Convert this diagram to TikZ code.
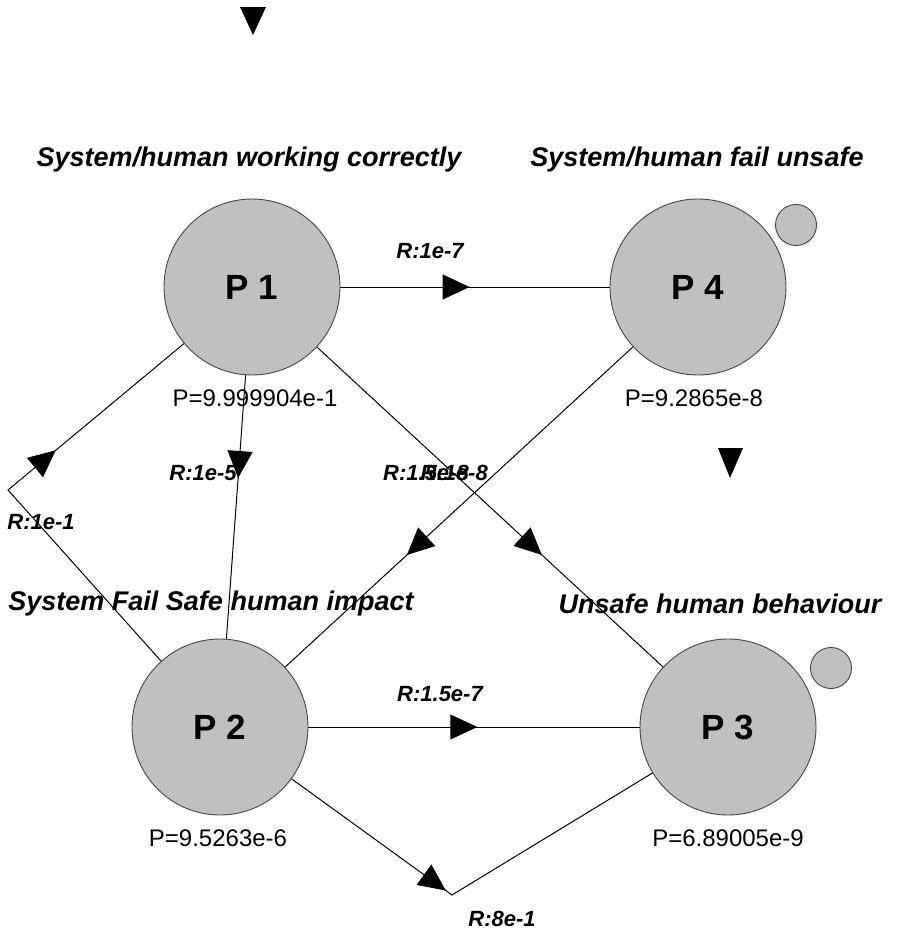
\documentclass[tikz,border=0pt]{standalone}
\usepackage{fontspec}
\setmainfont{Liberation Sans}
\usetikzlibrary{arrows.meta,decorations.markings}
\definecolor{stategray}{RGB}{192,192,192}
\definecolor{rimgray}{RGB}{70,70,70}

\begin{document}
\begin{tikzpicture}[x=1pt,y=-1pt,
  state/.style={circle,draw=rimgray,line width=0.9pt,fill=stategray,
    minimum size=176pt,inner sep=0pt,
    font=\fontsize{35}{35}\selectfont\bfseries},
  loopmark/.style={circle,draw=rimgray,line width=0.9pt,fill=stategray,
    minimum size=41pt,inner sep=0pt},
  title/.style={font=\fontsize{27}{27}\selectfont\bfseries\itshape,inner sep=0pt},
  prob/.style={font=\fontsize{24}{24}\selectfont,inner sep=0pt},
  rate/.style={font=\fontsize{22}{22}\selectfont\bfseries\itshape,inner sep=0pt},
  flow/.style={draw=black,line width=1pt,postaction={decorate},
    decoration={markings,mark=at position #1 with
      {\arrow{Triangle[length=27pt,width=25pt]}}}},
  tipmark/.style={fill=black}
]
\useasboundingbox (0,0) rectangle (900,930);

% states
\node[state] (P1) at (252,287) {P 1};
\node[state] (P4) at (698,287) {P 4};
\node[state] (P2) at (220,727) {P 2};
\node[state] (P3) at (728,727) {P 3};

% self-loop markers
\node[loopmark] (L4) at (796,225) {};
\node[loopmark] (L3) at (831,668) {};

% state titles
\node[title] (t1) at (249,160) {System/human working correctly};
\node[title] (t4) at (697,160) {System/human fail unsafe};
\node[title] (t2) at (211,604) {System Fail Safe human impact};
\node[title] (t3) at (720,604) {Unsafe human behaviour};

% state probabilities
\node[prob] (p1) at (255,398) {P=9.999904e-1};
\node[prob] (p4) at (694,398) {P=9.2865e-8};
\node[prob] (p2) at (218,838) {P=9.5263e-6};
\node[prob] (p3) at (728,838) {P=6.89005e-9};

% bend points
\coordinate (c1) at (8,490);
\coordinate (c2) at (452,895);

% transitions
\draw[flow=0.48] (P1) -- (P4);
\draw[flow=0.39] (P1) -- (P2);
\draw[flow=0.51] (P2) -- (P3);
\draw[flow=0.65] (P1) -- (P3);
\draw[flow=0.65] (P4) -- (P2);
\draw[flow=0.636] (P2) -- (c1) -- (P1);
\draw[flow=0.44] (P2) -- (c2) -- (P3);

% rates
\node[rate] (r14) at (430,251) {R:1e-7};
\node[rate] (r12) at (203,473) {R:1e-5};
\node[rate] (r21) at (41,522) {R:1e-1};
\node[rate] (r23) at (440,694) {R:1.5e-7};
\node[rate] (r32) at (502,919) {R:8e-1};
\node[rate,anchor=west] (r42) at (383,473) {R:1.5e-8};
\node[rate,anchor=east] (r13) at (488,473) {R:1e-8};

% free arrow heads
\fill[tipmark] (240,7) -- (266,7) -- (253,35) -- cycle;
\fill[tipmark] (718,448) -- (743,448) -- (730,478) -- cycle;
\end{tikzpicture}
\end{document}
